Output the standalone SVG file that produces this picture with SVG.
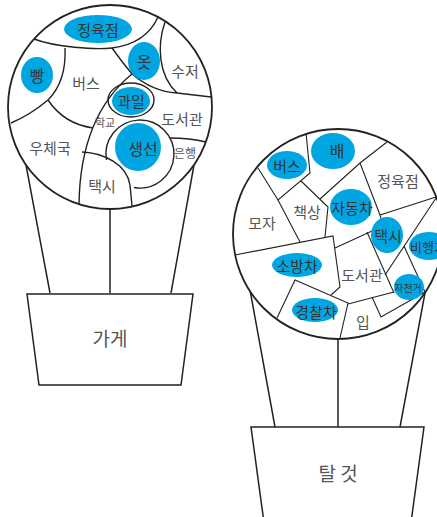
<svg xmlns="http://www.w3.org/2000/svg" width="437" height="517" viewBox="0 0 437 517">
<style>
.c{fill:#fff;stroke:#222;stroke-width:1.8}
.l{fill:none;stroke:#222;stroke-width:1.4}
.r{fill:none;stroke:#222;stroke-width:1.1}
.p{fill:#fff;stroke:#222;stroke-width:1.5}
.b{fill:#00a6e2}
text{font-family:"Noto Sans CJK KR","Noto Sans",sans-serif;text-anchor:middle;dominant-baseline:central;fill:#555;font-size:15px}
.h{fill:#333}
</style>
<rect width="437" height="517" fill="#fff"/>
<g id="stems">
<path class="p" d="M26,165 L50,293 M194,165 L171,293 M110,209 L110,293"/>
<path class="p" d="M250,290 L275,427 M425,293 L400,427 M338,339 L338,427"/>
</g>
<g id="pot-left">
<polygon class="p" points="27,294 193,294 181,385 39,385"/>
<text x="110" y="337" style="font-size:19px" fill="#333">가게</text>
</g>
<g id="pot-right">
<polygon class="p" points="251,427 424,427 410,530 265,530"/>
<text x="338" y="472" style="font-size:19px" fill="#333">탈 것</text>
</g>
<g id="flower-left">
<circle class="c" cx="110" cy="107" r="102"/>
<g id="connectors-left">
<path class="l" d="M34,39 C55,47 95,50 112,48 C135,45 150,35 158,17"/>
<path class="l" d="M65,48 C66,70 60,88 48,100 Q30,115 11,123"/>
<path class="l" d="M48,100 C58,115 72,125 93,128"/>
<path class="l" d="M132,74 C100,100 80,140 79,204"/>
<path class="l" d="M112,48 Q122,62 132,74 C145,85 160,92 177,93 L211,97"/>
<path class="l" d="M165,22 C157,45 158,75 177,93"/>
<path class="l" d="M82,152 C105,153 127,165 130,185 L132,206"/>
<path class="l" d="M106.5,160 A34,34 0 1 1 134,187.5"/>
<path class="l" d="M170,138 Q190,138 206,142"/>
<ellipse class="l" cx="131" cy="100" rx="23" ry="17"/>
</g>
<g id="n-jeongyukjeom"><ellipse class="b" cx="98" cy="29" rx="34" ry="14"/><text class="h" x="98" y="29">정육점</text></g>
<g id="n-ppang"><ellipse class="b" cx="37" cy="75" rx="16" ry="18"/><text class="h" x="37" y="75" style="font-size:16px">빵</text></g>
<g id="n-bus"><text x="86" y="82">버스</text></g>
<g id="n-ot"><ellipse class="b" cx="144" cy="61" rx="16" ry="19"/><text class="h" x="144" y="61" style="font-size:16px">옷</text></g>
<g id="n-sujeo"><text x="185" y="70">수저</text></g>
<g id="n-gwail"><ellipse class="b" cx="131" cy="101" rx="19" ry="14"/><text class="h" x="131" y="100">과일</text></g>
<g id="n-hakgyo"><text x="105" y="122" style="font-size:11px">학교</text></g>
<g id="n-library"><text x="182" y="118">도서관</text></g>
<g id="n-saengseon"><ellipse class="b" cx="138" cy="147" rx="23" ry="24"/><text class="h" x="143" y="148" style="font-size:16px">생선</text></g>
<g id="n-bank"><text x="185" y="152" style="font-size:12px">은행</text></g>
<g id="n-post"><text x="50" y="147">우체국</text></g>
<g id="n-taxi"><text x="102" y="185">택시</text></g>
</g>
<g id="flower-right">
<circle class="c" cx="338" cy="234" r="105"/>
<g id="connectors-right">
<path class="r" d="M258,168 L278,200 L310,173 L306,133"/>
<path class="r" d="M301,181 L328,207 L325,237"/>
<path class="r" d="M320,199 L360,163 L387,142"/>
<path class="r" d="M278,200 L300,242"/>
<path class="r" d="M235,255 L333,236 L340,287 L331,295"/>
<path class="r" d="M360,163 L380,215 L383,226 L335,248"/>
<path class="r" d="M380,215 L436,197"/>
<path class="r" d="M277,318 L295,280 L348,303 L340,338"/>
<path class="r" d="M348,304 L394,292"/>
<path class="r" d="M367,232 L394,293"/>
<path class="r" d="M385,275 L436,198"/>
<path class="r" d="M404,246 L425,292"/>
<path class="r" d="M372,297 L381,317 L425,292"/>
</g>
<g id="n-r-bus"><ellipse class="b" cx="287" cy="165" rx="20" ry="14"/><text class="h" x="287" y="165">버스</text></g>
<g id="n-r-bae"><ellipse class="b" cx="333" cy="151" rx="22" ry="18"/><text class="h" x="337" y="150" style="font-size:16px">배</text></g>
<g id="n-r-jeongyuk"><text x="398" y="180">정육점</text></g>
<g id="n-r-moja"><text x="262" y="222">모자</text></g>
<g id="n-r-chaeksang"><text x="307" y="211">책상</text></g>
<g id="n-r-car"><ellipse class="b" cx="351" cy="207" rx="21" ry="18"/><text class="h" x="352" y="207" style="font-size:15px">자동차</text></g>
<g id="n-r-taxi"><ellipse class="b" cx="387" cy="235" rx="16" ry="18"/><text class="h" x="388" y="235">택시</text></g>
<g id="n-r-plane"><ellipse class="b" cx="429" cy="246" rx="20" ry="14"/><text class="h" x="410" y="246" style="font-size:13px;text-anchor:start">비행기</text></g>
<g id="n-r-fire"><ellipse class="b" cx="297" cy="265" rx="25" ry="12"/><text class="h" x="297" y="265">소방차</text></g>
<g id="n-r-library"><text x="362" y="274">도서관</text></g>
<g id="n-r-police"><ellipse class="b" cx="315" cy="310" rx="23" ry="12"/><text class="h" x="316" y="311">경찰차</text></g>
<g id="n-r-mouth"><text x="363" y="321">입</text></g>
<g id="n-r-bike"><ellipse class="b" cx="409" cy="287" rx="15" ry="13"/><text class="h" x="408" y="287" style="font-size:10px">자전거</text></g>
</g>
</svg>
